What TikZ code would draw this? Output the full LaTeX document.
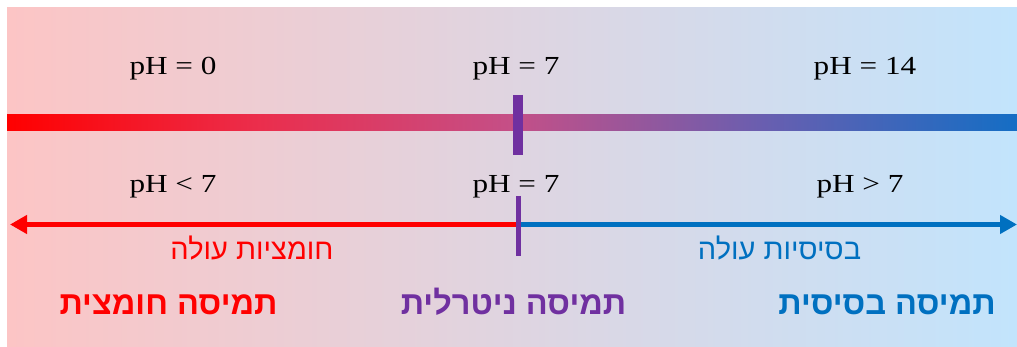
\documentclass[tikz,border=0pt]{standalone}
\usepackage{fontspec}
\setmainfont{Liberation Serif}[FakeStretch=1.2]
\newfontfamily\hebfont[Script=Hebrew]{Liberation Sans}
\TeXXeTstate=1
\usetikzlibrary{arrows.meta}
\definecolor{bgleft}{RGB}{252,197,197}
\definecolor{bgright}{RGB}{194,228,252}
\definecolor{acid}{RGB}{255,0,0}
\definecolor{base}{RGB}{0,112,192}
\definecolor{neutral}{RGB}{112,48,160}
\pgfdeclarehorizontalshading{barshade}{100bp}{rgb(0bp)=(1,0,0); rgb(25bp)=(1,0,0); rgb(37.5bp)=(0.92,0.18,0.30); rgb(50bp)=(0.77,0.31,0.53); rgb(62.5bp)=(0.41,0.37,0.69); rgb(75bp)=(0.08,0.43,0.77); rgb(100bp)=(0.08,0.43,0.77)}
\tikzset{
  phlabel/.style={anchor=base, font=\fontsize{26}{30}\selectfont, inner sep=0pt},
  heblabel/.style={anchor=base, font=\hebfont\fontsize{29}{33}\selectfont, inner sep=0pt},
  hebtitle/.style={anchor=base, font=\hebfont\bfseries\fontsize{32.5}{38}\selectfont, inner sep=0pt},
  tick/.style={draw=neutral, line width=#1},
  arrowline/.style={line width=5.5pt, -{Triangle[length=17pt,width=18pt]}},
}
\begin{document}
\begin{tikzpicture}[x=1pt,y=-1pt]
\useasboundingbox (0,0) rectangle (1017,347);
\shade[left color=bgleft, right color=bgright] (7,8) rectangle (1017,346);
% scale bar
\shade[shading=barshade] (7,115) rectangle (1017,131);
\draw[tick=10pt] (518,95) -- (518,155);
% top labels
\node[phlabel] (ph0) at (173,75) {pH = 0};
\node[phlabel] (ph7a) at (516,75) {pH = 7};
\node[phlabel] (ph14) at (865,75) {pH = 14};
% second labels
\node[phlabel] (phlt) at (173,193) {pH < 7};
\node[phlabel] (ph7b) at (516,193) {pH = 7};
\node[phlabel] (phgt) at (860,193) {pH > 7};
% arrows
\coordinate (mid) at (518.5,224.5);
\coordinate (lefttip) at (10,224.5);
\coordinate (righttip) at (1017,224.5);
\draw[arrowline, draw=acid, fill=acid] (mid) -- (lefttip);
\draw[arrowline, draw=base, fill=base] (mid) -- (righttip);
\coordinate (ntop) at (518.5,196);
\coordinate (nbot) at (518.5,256);
\draw[tick=5pt] (ntop) -- (nbot);
% hebrew labels
\node[heblabel, text=acid] (acidup) at (252,260) {\beginR חומציות עולה\endR};
\node[heblabel, text=base] (baseup) at (779.5,260) {\beginR בסיסיות עולה\endR};
\node[hebtitle, text=acid] (acidsol) at (168.5,315) {\beginR תמיסה חומצית\endR};
\node[hebtitle, text=neutral] (neutsol) at (513.5,315) {\beginR תמיסה ניטרלית\endR};
\node[hebtitle, text=base] (basesol) at (887,315) {\beginR תמיסה בסיסית\endR};
\end{tikzpicture}
\end{document}
